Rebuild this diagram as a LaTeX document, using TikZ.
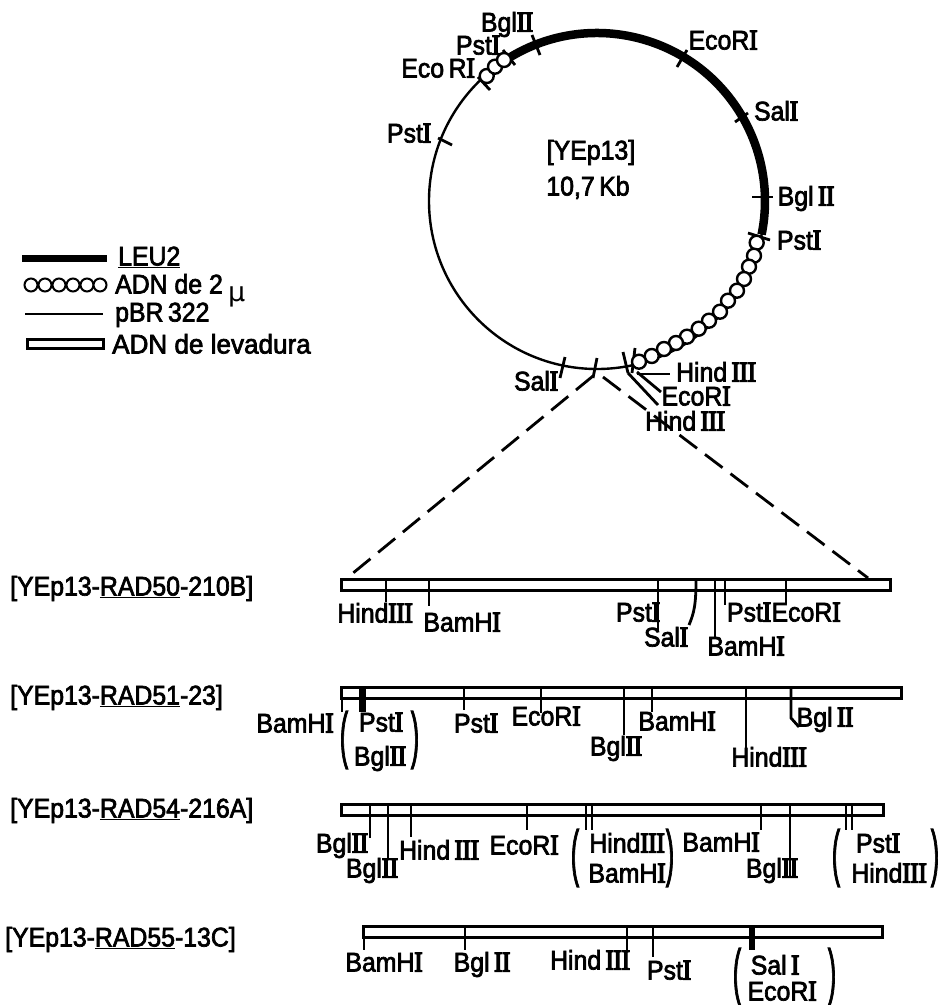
\documentclass[tikz,border=0pt]{standalone}
\usepackage{fontspec}
\setmainfont[FakeBold=2.5,FakeStretch=0.92]{Liberation Sans}
\newfontfamily\serfont[FakeBold=5,FakeStretch=0.85]{Liberation Serif}
\newcommand\rn[1]{{\fontsize{28.5}{28}\selectfont\serfont #1}}
\newcommand\PstI{Pst\rn{I}}
\newcommand\EcoRI{EcoR\rn{I}}
\newcommand\BamHI{BamH\rn{I}}
\newcommand\SalI{Sal\rn{I}}
\newcommand\BglII{Bgl\,\rn{II}}
\newcommand\HindIII{Hind\,\rn{III}}
\newcommand\bigp[1]{\scalebox{1}[2.3]{#1}}
\tikzset{
  x=1pt,y=-1pt,
  lab/.style={font=\fontsize{27}{28}\selectfont,inner sep=0pt,text height=19pt,text depth=0pt,anchor=center},
  labw/.style={lab,anchor=west},
  paren/.style={font=\fontsize{27}{28}\selectfont,inner sep=0pt,anchor=center},
  tick/.style={line width=2.8pt,black},
  bead/.style={circle,draw=black,fill=white,line width=2.4pt,minimum size=14pt,inner sep=0pt},
  yeast/.style={draw=black,fill=white,line width=3pt,inner sep=0pt,anchor=north west},
  leu/.style={line width=8.5pt,black},
  zoomdash/.style={line width=2.8pt,dash pattern=on 22pt off 10pt},
}
\newcommand\cut[5]{\coordinate (#1a) at (#2,#3); \coordinate (#1b) at (#4,#5); \draw[tick] (#1a) -- (#1b);}
\newcommand\ybar[5]{\node[yeast,minimum width=#4pt,minimum height=#5pt] (#1) at (#2,#3) {};}
\begin{document}
\begin{tikzpicture}
\fill[white] (0,0) rectangle (943,1005);
\useasboundingbox (0,0) rectangle (943,1005);
% plasmid
\node[circle,draw=black,line width=2.4pt,minimum size=336pt,inner sep=0pt] (plasmid) at (597,201) {};
\draw[leu] (plasmid.center) ++(-121:168) arc[start angle=-121,end angle=11.5,radius=168];
% dashed zoom lines
\coordinate (zl) at (593,376); \coordinate (zr) at (603,377);
\coordinate (bl) at (347,578); \coordinate (br) at (868,578);
\draw[zoomdash] (zl) -- (bl);
\draw[zoomdash] (zr) -- (br);
% ticks on the circle
\cut{ta}{677}{67}{687}{50}
\cut{tb}{735}{122}{748}{113}
\cut{tc}{438}{138}{452}{145}
\cut{td}{752}{197}{773}{197}
\cut{te}{532}{35}{540}{55}
\cut{tf}{503}{50}{515}{65}
\cut{tg}{478}{77}{490}{90}
\cut{th}{748}{233}{770}{240}
\cut{ti}{565}{357}{560}{378}
\cut{tj}{597}{358}{593}{378}
\cut{tk}{623}{352}{628}{373}
\cut{tl}{635}{348}{632}{373}
\cut{tm}{637}{374}{670}{374}
\cut{tn}{637}{372}{661}{392}
\cut{to}{628}{373}{658}{405}
% beads
\foreach \n/\x/\y in {1/486.7/76,2/495/66.7,3/504/60,
  4/756.7/242.7,5/754/255.7,6/749/266.7,7/744/279,8/737/290.7,9/728/300.7,10/720/311.7,
  11/709/320.7,12/698.7/328.7,13/687/336.7,14/676/343,15/664/349,16/651.7/356,17/639/361.7}
  \node[bead] (b\n) at (\x,\y) {};
% circle labels
\node[lab] (l1) at (507,22) {Bgl\rn{II}};
\node[lab] (l2) at (478,45) {\PstI};
\node[lab] (l3) at (438,68) {Eco\,R\rn{I}};
\node[lab] (l4) at (409,133) {\PstI};
\node[lab] (l5) at (591,150) {[YEp13]};
\node[lab] (l6) at (588,186) {10,7\,Kb};
\node[lab] (l7) at (723,40) {\EcoRI};
\node[lab] (l8) at (776,111) {\SalI};
\node[lab] (l9) at (806,196) {\BglII};
\node[lab] (l10) at (799,240) {\PstI};
\node[lab] (l11) at (716,372) {\HindIII};
\node[lab] (l12) at (696,396) {\EcoRI};
\node[lab] (l13) at (685,421) {\HindIII};
\node[lab] (l14) at (536,381) {\SalI};
% legend
\coordinate (la) at (22,258); \coordinate (lb) at (107,258);
\draw[line width=7pt] (la) -- (lb);
\foreach \n/\x in {1/31,2/45,3/59,4/73,5/87,6/100}
  \node[bead,minimum size=13pt,line width=2pt] (g\n) at (\x,285) {};
\coordinate (lc) at (25,314); \coordinate (ld) at (103,314);
\draw[line width=2pt] (lc) -- (ld);
\ybar{lbar}{26}{338}{76}{9}
\node[labw] (t1) at (118,256) {\underline{LEU2}};
\node[labw] (t2) at (115,284) {ADN de 2};
\node[labw] (t2m) at (228,292) {\fontspec{DejaVu Sans}µ};
\node[labw] (t3) at (115,312) {pBR\,322};
\node[labw] (t4) at (112,344) {\scalebox{1.05}[1]{ADN de levadura}};
% construct 1
\node[labw] (c1) at (10,586) {[YEp13-\underline{RAD50}-210B]};
\ybar{s1}{340}{578}{549}{11}
\cut{a1}{386}{578}{386}{602}
\cut{a2}{429}{578}{429}{606}
\cut{a3}{658}{578}{658}{632}
\coordinate (a4a) at (696,580); \coordinate (a4b) at (689,625);
\draw[tick] (a4a) .. controls (696,605) and (694,613) .. (a4b);
\cut{a5}{715}{578}{715}{637}
\cut{a6}{725}{578}{725}{605}
\cut{a7}{786}{578}{786}{604}
\node[lab] (n1) at (375,613) {Hind\rn{III}};
\node[lab] (n2) at (462,622) {\BamHI};
\node[lab] (n3) at (638,612) {\PstI};
\node[lab] (n4) at (666,637) {\SalI};
\node[lab] (n5) at (746,646) {\BamHI};
\node[lab] (n6) at (749,612) {\PstI};
\node[lab] (n7) at (806,612) {\EcoRI};
% construct 2
\node[labw] (c2) at (10,695) {[YEp13-\underline{RAD51}-23]};
\ybar{s2}{340}{686}{560}{11}
\cut{b1}{342}{697}{342}{712}
\coordinate (b2a) at (362,686); \coordinate (b2b) at (362,712);
\draw[line width=7pt] (b2a) -- (b2b);
\cut{b3}{464}{686}{464}{710}
\cut{b4}{541}{686}{541}{713}
\cut{b5}{624}{686}{624}{735}
\cut{b6}{652}{686}{652}{712}
\cut{b7}{746}{686}{746}{748}
\coordinate (b8a) at (791,686); \coordinate (b8b) at (799,727);
\draw[tick] (b8a) -- (791,718) -- (b8b);
\node[lab] (m1) at (295,723) {\BamHI};
\node[paren] (m2) at (344,740) {\bigp{(}};
\node[lab] (m3) at (381,722) {\PstI};
\node[lab] (m4) at (380,756) {Bgl\rn{II}};
\node[paren] (m5) at (415,740) {\bigp{)}};
\node[lab] (m6) at (476,723) {\PstI};
\node[lab] (m7) at (546,716) {\EcoRI};
\node[lab] (m8) at (616,746) {Bgl\rn{II}};
\node[lab] (m9) at (677,721) {\BamHI};
\node[lab] (m10) at (769,757) {Hind\rn{III}};
\node[lab] (m11) at (825,717) {\BglII};
% construct 3
\node[labw] (c3) at (10,808) {[YEp13-\underline{RAD54}-216A]};
\ybar{s3}{340}{803}{542}{11}
\cut{d1}{370}{803}{370}{838}
\cut{d2}{388}{803}{388}{858}
\cut{d3}{411}{803}{411}{837}
\cut{d4}{527}{803}{527}{830}
\cut{d5}{586}{803}{586}{830}
\cut{d6}{592}{803}{592}{830}
\cut{d7}{761}{803}{761}{830}
\cut{d8}{790}{803}{790}{877}
\cut{d9}{846}{803}{846}{830}
\cut{d10}{852}{803}{852}{830}
\node[lab] (k1) at (342,843) {Bgl\rn{II}};
\node[lab] (k2) at (372,868) {Bgl\rn{II}};
\node[lab] (k3) at (439,850) {\HindIII};
\node[lab] (k4) at (524,845) {\EcoRI};
\node[paren] (k5) at (575,858) {\bigp{(}};
\node[lab] (k6) at (627,843) {Hind\rn{III}};
\node[lab] (k7) at (627,873) {\BamHI};
\node[paren] (k8) at (670,858) {\bigp{)}};
\node[lab] (k9) at (721,842) {\BamHI};
\node[lab] (k10) at (772,868) {Bgl\rn{II}};
\node[paren] (k11) at (836,858) {\bigp{(}};
\node[lab] (k12) at (878,843) {\PstI};
\node[lab] (k13) at (889,873) {Hind\rn{III}};
\node[paren] (k14) at (935,858) {\bigp{)}};
% construct 4
\node[labw] (c4) at (5,937) {[YEp13-\underline{RAD55}-13C]};
\ybar{s4}{362}{925}{519}{11}
\cut{e1}{364}{936}{364}{950}
\cut{e2}{465}{925}{465}{950}
\cut{e3}{627}{925}{627}{950}
\cut{e4}{653}{925}{653}{957}
\coordinate (e5a) at (752,925); \coordinate (e5b) at (752,950);
\draw[line width=6pt] (e5a) -- (e5b);
\node[lab] (q1) at (384,962) {\BamHI};
\node[lab] (q2) at (482,962) {\BglII};
\node[lab] (q3) at (590,960) {\HindIII};
\node[lab] (q4) at (669,970) {\PstI};
\node[paren] (q5) at (737,977) {\bigp{(}};
\node[lab] (q6) at (775,965) {Sal\,\rn{I}};
\node[lab] (q7) at (782,991) {\EcoRI};
\node[paren] (q8) at (832,977) {\bigp{)}};
\end{tikzpicture}
\end{document}
